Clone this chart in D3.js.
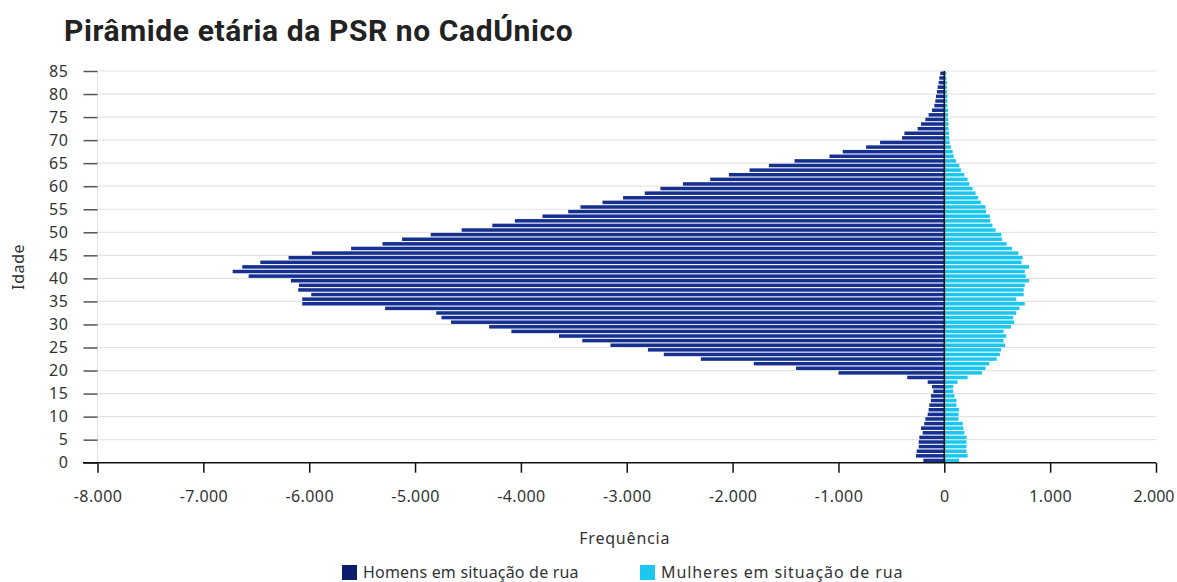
<!DOCTYPE html>
<html>
<head>
<meta charset="utf-8">
<script src="https://cdn.jsdelivr.net/npm/d3@7"></script>
<style>
  body { margin: 0; background: #fff; }
  svg text { font-family: "Noto Sans", "Open Sans", sans-serif; fill: #333; }
</style>
</head>
<body>
<svg id="chart" width="1177" height="582"></svg>
<script>
// idades 0..84
var idades = d3.range(0, 85);

// homens (negativos), idade 0 -> 84
var homens = [
  -198, -267, -261, -242, -242, -236, -204, -220, -189, -179,
  -157, -148, -142, -126, -126, -104, -116, -157, -350, -1000,
  -1400, -1800, -2300, -2650, -2800, -3154, -3420, -3640, -4090, -4300,
  -4660, -4750, -4800, -5283, -6066, -6066, -5981, -6104, -6097, -6173,
  -6572, -6723, -6632, -6462, -6195, -5975, -5604, -5308, -5123, -4852,
  -4560, -4270, -4057, -3796, -3553, -3437, -3229, -3035, -2830, -2682,
  -2469, -2211, -2035, -1840, -1657, -1415, -1085, -959, -739, -607,
  -399, -377, -252, -220, -179, -148, -116, -94, -85, -79,
  -69, -63, -53, -47, -38
];

// mulheres, idade 0 -> 84
var mulheres = [
  140, 220, 210, 210, 210, 210, 190, 180, 175, 135,
  135, 140, 115, 115, 95, 85, 85, 125, 220, 355,
  390, 425, 495, 525, 535, 575, 560, 585, 560, 630,
  660, 650, 680, 710, 760, 680, 750, 750, 760, 800,
  770, 760, 800, 730, 740, 700, 640, 590, 545, 540,
  485, 455, 435, 430, 395, 390, 345, 320, 295, 267,
  236, 220, 189, 157, 142, 110, 88, 79, 63, 50,
  47, 45, 40, 40, 35, 35, 35, 30, 30, 30,
  25, 25, 25, 20, 20
];

var xTicks = [-8000, -7000, -6000, -5000, -4000, -3000, -2000, -1000, 0, 1000, 2000];
var yTicks = [0, 5, 10, 15, 20, 25, 30, 35, 40, 45, 50, 55, 60, 65, 70, 75, 80, 85];

var series = ["Homens em situação de rua", "Mulheres em situação de rua"];
var cores = {"Homens": "#15308f", "Mulheres": "#1bc6ef", "HomensLegenda": "#0d1d6e"};

var svg = d3.select("#chart");

var x = d3.scaleLinear().domain([-8000, 2000]).range([97.5, 1156]);
var y = d3.scaleLinear().domain([0, 85]).range([462.7, 71]);

var br = d3.formatLocale({decimal: ",", thousands: ".", grouping: [3], currency: ["R$", ""], minus: "-"});
var fmt = br.format(",");

// titulo
svg.append("text")
  .attr("x", 64)
  .attr("y", 41)
  .style("font-family", "Roboto, sans-serif")
  .style("font-weight", "bold")
  .style("font-size", "30px")
  .style("letter-spacing", "0.6px")
  .style("fill", "#222")
  .text("Pirâmide etária da PSR no CadÚnico");

// grade horizontal
svg.append("g")
  .selectAll("line")
  .data(yTicks.filter(function(d) { return d > 0; }))
  .enter()
  .append("line")
  .attr("x1", x(-8000))
  .attr("x2", x(2000))
  .attr("y1", function(d) { return y(d); })
  .attr("y2", function(d) { return y(d); })
  .attr("stroke", "#e4e4e4")
  .attr("stroke-width", 1.2);

// linha vertical esquerda
svg.append("line")
  .attr("x1", x(-8000)).attr("x2", x(-8000))
  .attr("y1", y(85)).attr("y2", y(0))
  .attr("stroke", "#e4e4e4")
  .attr("stroke-width", 1.2);

// eixo y
var yAxis = svg.append("g")
  .attr("transform", "translate(" + x(-8000) + ",0)")
  .call(d3.axisLeft(y).tickValues(yTicks).tickSize(14).tickPadding(15));
yAxis.select(".domain").remove();
yAxis.selectAll(".tick line").attr("stroke", "#555").attr("stroke-width", 1.5);
yAxis.selectAll(".tick text").style("font-size", "16px").style("letter-spacing", "0.6px").style("fill", "#333");

// barras
var bh = y(0) - y(1);
svg.append("g")
  .selectAll("rect")
  .data(idades)
  .enter()
  .append("rect")
  .attr("x", function(d) { return x(homens[d]); })
  .attr("width", function(d) { return x(0) - x(homens[d]); })
  .attr("y", function(d) { return y(d + 1) + 0.6; })
  .attr("height", bh - 1.1)
  .attr("fill", cores.Homens);

svg.append("g")
  .selectAll("rect")
  .data(idades)
  .enter()
  .append("rect")
  .attr("x", x(0))
  .attr("width", function(d) { return x(mulheres[d]) - x(0); })
  .attr("y", function(d) { return y(d + 1) + 0.6; })
  .attr("height", bh - 1.1)
  .attr("fill", cores.Mulheres);

// linha do zero
svg.append("line")
  .attr("x1", x(0)).attr("x2", x(0))
  .attr("y1", y(85)).attr("y2", y(0))
  .attr("stroke", "#111")
  .attr("stroke-width", 1.6);

// eixo x
var xAxis = svg.append("g")
  .attr("transform", "translate(0," + y(0) + ")")
  .call(d3.axisBottom(x).tickValues(xTicks).tickFormat(fmt).tickSize(10).tickSizeOuter(0).tickPadding(18));
xAxis.select(".domain")
  .attr("d", "M83,0H" + x(2000))
  .attr("stroke", "#111")
  .attr("stroke-width", 1.6);
xAxis.selectAll(".tick line").attr("stroke", "#111").attr("stroke-width", 1.5);
xAxis.selectAll(".tick text").style("font-size", "16px").style("letter-spacing", "0.4px").style("fill", "#333");
// ultimo rotulo encostado na borda: ancora a direita
xAxis.selectAll(".tick text")
  .filter(function(d) { return d === 2000; })
  .attr("text-anchor", "end")
  .style("letter-spacing", "0px")
  .attr("dx", "18");

// titulos dos eixos
svg.append("text")
  .attr("x", (x(-8000) + x(2000)) / 2 - 2)
  .attr("y", 544)
  .attr("text-anchor", "middle")
  .style("font-size", "16px")
  .style("letter-spacing", "0.8px")
  .text("Frequência");

svg.append("text")
  .attr("transform", "translate(24," + y(42.5) + ") rotate(-90)")
  .attr("text-anchor", "middle")
  .style("font-size", "16px")
  .style("letter-spacing", "0.6px")
  .text("Idade");

// legenda
var legenda = [
  {nome: series[0], cor: cores.HomensLegenda, x: 342},
  {nome: series[1], cor: cores.Mulheres, x: 640}
];
var lg = svg.append("g")
  .selectAll("g")
  .data(legenda)
  .enter()
  .append("g")
  .attr("transform", function(d) { return "translate(" + d.x + ",565)"; });
lg.append("rect")
  .attr("width", 15).attr("height", 15)
  .attr("fill", function(d) { return d.cor; });
lg.append("text")
  .attr("x", 21).attr("y", 13)
  .style("font-size", "16px")
  .style("letter-spacing", function(d, i) { return i === 0 ? "0.2px" : "0.9px"; })
  .text(function(d) { return d.nome; });
</script>
</body>
</html>
